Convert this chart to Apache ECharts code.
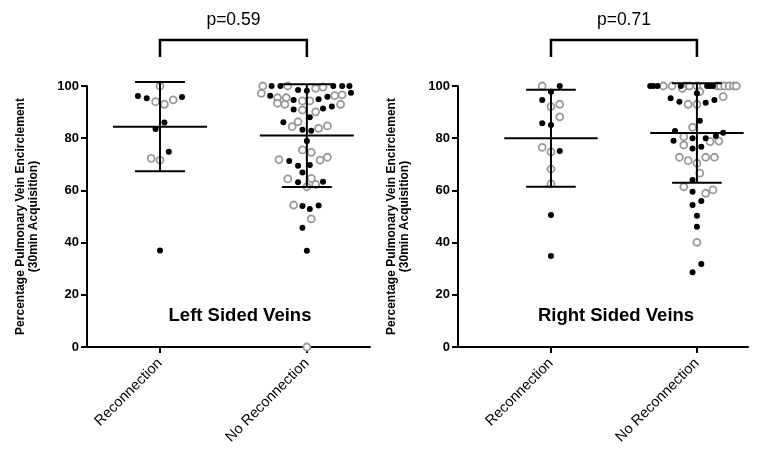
<!DOCTYPE html>
<html>
<head>
<meta charset="utf-8">
<script src="https://cdn.jsdelivr.net/npm/echarts@6/dist/echarts.min.js"></script>
<style>
  html, body { margin: 0; padding: 0; background: #fff; }
  #main { width: 758px; height: 453px; }
</style>
</head>
<body>
<div id="main"></div>
<script>
var myChart = echarts.init(document.getElementById('main'));

// categories on each panel (x = 1, x = 2)
var categories = ['Reconnection', 'No Reconnection'];
var panelTitles = ['Left Sided Veins', 'Right Sided Veins'];
var yTicks = [0, 20, 40, 60, 80, 100];
var pValues = [0.59, 0.71];

// points: [percentage, horizontal jitter in category widths]
var leftReconFilled = [[96.2, -0.15], [95.3, -0.09], [95.8, 0.15], [86.0, 0.03], [83.5, -0.03], [74.8, 0.06], [37.0, 0]];
var leftReconOpen = [[100, 0], [94.0, -0.03], [93.0, 0.03], [94.7, 0.09], [72.3, -0.06], [71.6, 0]];

var leftNoReconFilled = [
    [100, -0.24], [100, -0.18], [100, 0.18], [100, 0.24], [100, 0.29], [98.5, -0.06], [98.2, 0], [97.4, 0.30],
    [96.3, -0.25], [94.6, -0.09], [94.9, 0.08], [95.9, 0.14],
    [91.0, -0.09], [91.4, 0.11], [92.1, 0.17],
    [86.1, -0.16], [88.0, 0.02], [83.2, -0.03], [82.9, 0.03], [78.9, 0],
    [71.3, -0.12], [69.4, -0.06], [69.7, 0.02], [66.9, -0.03], [63.1, -0.06], [63.3, 0.11],
    [54.0, -0.03], [52.9, 0.02], [54.2, 0.08], [45.7, -0.03], [36.9, 0]
];
var leftNoReconOpen = [
    [100, -0.30], [100, -0.13], [99.1, 0.06], [99.6, 0.11],
    [97.2, -0.31], [95.5, -0.20], [95.5, -0.14], [94.3, -0.03], [94.3, 0.02], [96.3, 0.19], [96.6, 0.24],
    [93.4, -0.20], [93.0, -0.15], [90.8, -0.03], [90.1, 0.06], [93.0, 0.23],
    [84.4, -0.10], [86.3, -0.06], [83.8, 0.08], [84.7, 0.14],
    [75.5, -0.03], [74.6, 0.03], [71.6, 0.09], [72.7, 0.14], [71.8, -0.19], [64.4, -0.13], [64.6, 0.03], [61.4, 0], [62.3, 0.06],
    [54.4, -0.09], [49.1, 0.03], [0, 0]
];

var rightReconFilled = [[100, 0.06], [97.8, 0], [94.6, -0.06], [85.7, -0.06], [85.1, 0], [75.1, 0.06], [50.6, 0], [34.9, 0]];
var rightReconOpen = [[100, -0.06], [92.1, 0], [93.0, 0.06], [88.2, 0.06], [76.5, -0.06], [74.8, 0], [68.2, 0], [62.5, 0]];

var rightNoReconFilled = [
    [100, -0.32], [100, -0.30], [100, -0.27], [100, -0.11], [100, 0.07], [100, 0.09], [100, 0.11],
    [97.2, 0], [95.3, -0.18], [94.0, -0.12], [93.6, 0.06], [94.6, 0.12], [86.7, 0.02],
    [82.8, -0.15], [82.1, 0.18], [80.8, 0.13], [79.0, -0.16], [80.0, -0.03], [80.0, 0.06], [76.1, -0.03], [76.7, 0.03],
    [64.0, -0.03], [59.5, -0.03], [54.4, -0.03], [55.9, 0.03], [50.3, 0], [46.1, 0], [31.8, 0.03], [28.6, -0.03]
];
var rightNoReconOpen = [
    [100, -0.23], [100, -0.17], [100, -0.08], [100, -0.05], [100, 0], [100, 0.14], [100, 0.16], [100, 0.19], [100, 0.22], [100, 0.25], [100, 0.27],
    [99.1, -0.10], [97.8, 0.02], [93.0, -0.06], [93.0, 0], [95.9, 0.18],
    [84.2, -0.03], [80.6, -0.09], [78.7, 0.09], [78.9, 0.15], [77.4, -0.09],
    [72.7, -0.12], [71.4, -0.06], [70.4, 0], [72.7, 0.06], [72.7, 0.12],
    [66.6, 0.02], [61.4, -0.09], [58.9, 0.06], [60.2, 0.11], [40.1, 0]
];

// mean and SD per category
var leftMeans = [84.4, 81.0];
var leftSDs = [17.1, 19.7];
var rightMeans = [80.0, 82.0];
var rightSDs = [18.6, 19.1];

var FONT = '"Liberation Sans", Arial, Helvetica, sans-serif';

var toXY = function (arr, cat) {
    return arr.map(function (p) { return [cat + p[1], p[0]]; });
};

var errorBarItem = function (params, api) {
    var x = api.value(0), m = api.value(1), s = api.value(2);
    var c = api.coord([x, m]);
    var hi = api.coord([x, m + s]);
    var lo = api.coord([x, m - s]);
    var unit = api.size([1, 0])[0];
    var mw = unit * 0.32, cw = unit * 0.17;
    var st = { stroke: '#000', lineWidth: 2 };
    return {
        type: 'group',
        children: [
            { type: 'line', shape: { x1: c[0] - mw, y1: c[1], x2: c[0] + mw, y2: c[1] }, style: st },
            { type: 'line', shape: { x1: c[0], y1: hi[1], x2: c[0], y2: lo[1] }, style: st },
            { type: 'line', shape: { x1: c[0] - cw, y1: hi[1], x2: c[0] + cw, y2: hi[1] }, style: st },
            { type: 'line', shape: { x1: c[0] - cw, y1: lo[1], x2: c[0] + cw, y2: lo[1] }, style: st }
        ]
    };
};

var bracketItem = function (params, api) {
    var a = api.coord([api.value(0), 100]);
    var b = api.coord([api.value(1), 100]);
    var top = a[1];
    var yBar = top - 46, yLeg = top - 29;
    var st = { stroke: '#000', lineWidth: 2.5, fill: null };
    return {
        type: 'group',
        children: [
            { type: 'polyline', shape: { points: [[a[0], yLeg], [a[0], yBar], [b[0], yBar], [b[0], yLeg]] }, style: st },
            {
                type: 'text',
                style: {
                    x: (a[0] + b[0]) / 2, y: top - 66,
                    text: 'p=' + api.value(2).toFixed(2),
                    align: 'center', verticalAlign: 'middle',
                    font: '17.5px ' + FONT, fill: '#000'
                }
            }
        ]
    };
};

var makeXAxis = function (idx, min, max) {
    return {
        type: 'value', gridIndex: idx, min: min, max: max,
        splitLine: { show: false },
        axisLine: { lineStyle: { color: '#000', width: 2 } },
        axisTick: { customValues: [1, 2], length: 6, lineStyle: { color: '#000', width: 2 } },
        axisLabel: {
            customValues: [1, 2], rotate: 45, margin: 14,
            fontFamily: FONT, fontSize: 14.5, color: '#000',
            formatter: function (v) { return categories[Math.round(v) - 1]; }
        }
    };
};

var makeYAxis = function (idx) {
    return {
        type: 'value', gridIndex: idx, min: 0, max: 100, interval: 20,
        name: 'Percentage Pulmonary Vein Encirclement\n(30min Acquisition)',
        nameLocation: 'middle', nameGap: 47,
        nameTextStyle: { fontFamily: FONT, fontSize: 12, fontWeight: 'bold', color: '#000', lineHeight: 13 },
        splitLine: { show: false },
        axisLine: { show: true, lineStyle: { color: '#000', width: 2 } },
        axisTick: { show: true, length: 6, lineStyle: { color: '#000', width: 2 } },
        axisLabel: {
            margin: 8, fontFamily: FONT, fontSize: 13, fontWeight: 'bold', color: '#000',
            formatter: function (v) { return yTicks.indexOf(v) >= 0 ? String(v) : ''; }
        }
    };
};

var filledStyle = { color: '#000', opacity: 1 };
var openStyle = { color: '#fff', borderColor: '#999', borderWidth: 1.8, opacity: 1 };

var panels = [
    { filled: [leftReconFilled, leftNoReconFilled], open: [leftReconOpen, leftNoReconOpen], means: leftMeans, sds: leftSDs },
    { filled: [rightReconFilled, rightNoReconFilled], open: [rightReconOpen, rightNoReconOpen], means: rightMeans, sds: rightSDs }
];

var series = [];
panels.forEach(function (p, i) {
    series.push({
        type: 'scatter', xAxisIndex: i, yAxisIndex: i, clip: false,
        symbol: 'circle', symbolSize: 7, itemStyle: openStyle, z: 2,
        data: toXY(p.open[0], 1).concat(toXY(p.open[1], 2))
    });
    series.push({
        type: 'scatter', xAxisIndex: i, yAxisIndex: i, clip: false,
        symbol: 'circle', symbolSize: 6, itemStyle: filledStyle, z: 3,
        data: toXY(p.filled[0], 1).concat(toXY(p.filled[1], 2))
    });
    series.push({
        type: 'custom', xAxisIndex: i, yAxisIndex: i, clip: false, z: 4,
        renderItem: errorBarItem,
        data: [[1, p.means[0], p.sds[0]], [2, p.means[1], p.sds[1]]]
    });
    series.push({
        type: 'custom', xAxisIndex: i, yAxisIndex: i, clip: false, z: 4,
        renderItem: bracketItem,
        data: [[1, 2, pValues[i]]]
    });
});

var option = {
    backgroundColor: '#fff',
    animation: false,
    title: [
        { text: panelTitles[0], left: 235, top: 301, textAlign: 'center',
          textStyle: { fontFamily: FONT, fontSize: 18.5, fontWeight: 'bold', color: '#000' } },
        { text: panelTitles[1], left: 611, top: 301, textAlign: 'center',
          textStyle: { fontFamily: FONT, fontSize: 18.5, fontWeight: 'bold', color: '#000' } }
    ],
    grid: [
        { left: 87, top: 86, width: 283, height: 261 },
        { left: 458, top: 86, width: 290, height: 261 }
    ],
    xAxis: [makeXAxis(0, 0.503, 2.43), makeXAxis(1, 0.363, 2.35)],
    yAxis: [makeYAxis(0), makeYAxis(1)],
    series: series
};

myChart.setOption(option);
</script>
</body>
</html>
